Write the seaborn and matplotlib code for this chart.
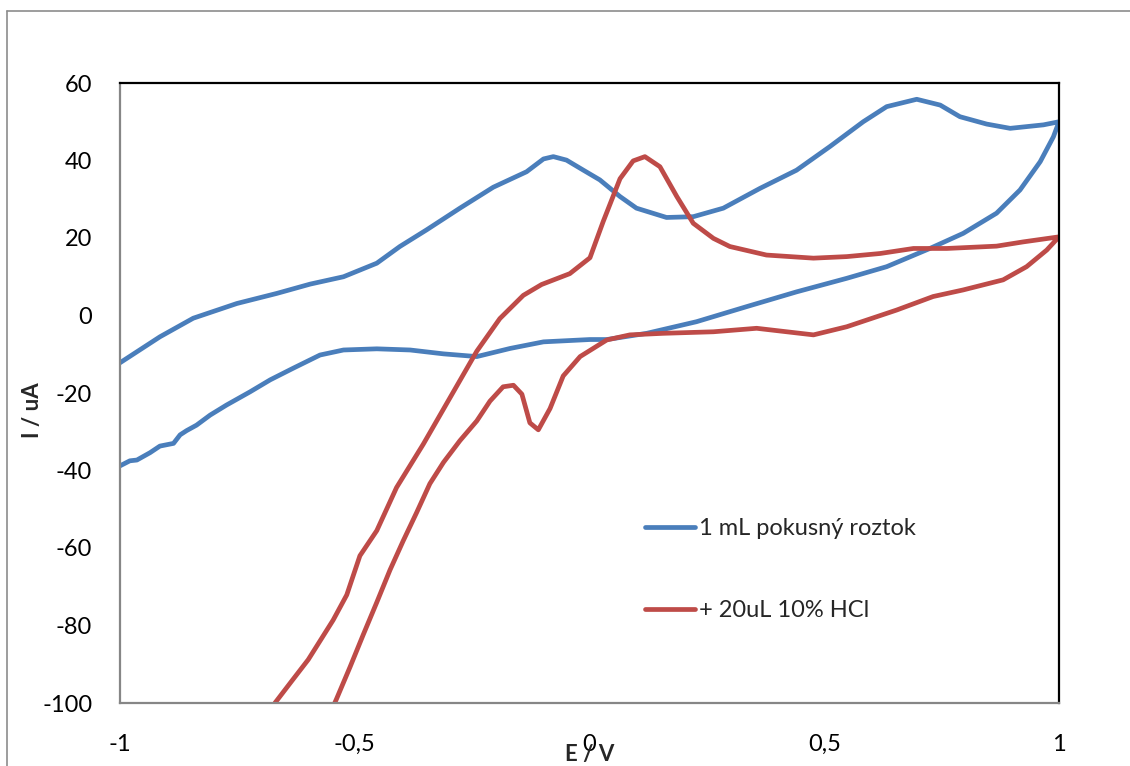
import matplotlib
matplotlib.use("Agg")
import matplotlib.pyplot as plt
from matplotlib.lines import Line2D
import numpy as np
import pandas as pd
import seaborn as sns

# Cyclic voltammograms: potential E (V) and current I (uA), in scan order
blue_e = [-1.000, -0.979, -0.964, -0.936, -0.915, -0.886, -0.872, -0.858, -0.837,
          -0.808, -0.773, -0.723, -0.680, -0.631, -0.574, -0.524, -0.453, -0.382,
          -0.311, -0.240, -0.169, -0.098, 0.001, 0.037, 0.122, 0.228, 0.335, 0.441,
          0.548, 0.633, 0.725, 0.796, 0.867, 0.917, 0.960, 0.988, 1.000,
          0.967, 0.896, 0.846, 0.789, 0.747, 0.697, 0.633, 0.583, 0.512, 0.441,
          0.363, 0.285, 0.221, 0.164, 0.100, 0.065, 0.022, -0.013, -0.049, -0.077,
          -0.098, -0.134, -0.205, -0.276, -0.347, -0.404, -0.453, -0.524, -0.595,
          -0.666, -0.751, -0.844, -0.915, -1.000]
blue_i = [-38.8, -37.5, -37.3, -35.4, -33.7, -33.0, -30.8, -29.7, -28.3,
          -25.7, -23.1, -19.7, -16.6, -13.6, -10.2, -8.9, -8.6, -8.9,
          -9.9, -10.6, -8.5, -6.8, -6.2, -6.2, -4.6, -1.6, 2.3, 6.1,
          9.6, 12.6, 17.3, 21.2, 26.4, 32.4, 39.7, 46.1, 50.0,
          49.2, 48.3, 49.4, 51.3, 54.3, 55.8, 53.9, 50.0, 43.6, 37.5,
          32.8, 27.7, 25.5, 25.3, 27.7, 30.7, 35.0, 37.5, 40.1, 41.0,
          40.4, 37.1, 33.1, 27.7, 22.1, 17.8, 13.5, 10.0, 8.1,
          5.7, 3.1, -0.7, -5.5, -12.2]

red_e = [-0.675, -0.670, -0.634, -0.599, -0.546, -0.517, -0.489, -0.453, -0.411,
         -0.354, -0.297, -0.240, -0.191, -0.141, -0.102, -0.042, 0.001, 0.029,
         0.065, 0.093, 0.118, 0.150, 0.186, 0.221, 0.264, 0.299, 0.377, 0.477,
         0.548, 0.619, 0.690, 0.761, 0.867, 0.924, 1.000,
         0.974, 0.931, 0.881, 0.796, 0.732, 0.654, 0.548, 0.477, 0.420, 0.356,
         0.264, 0.157, 0.086, 0.037, -0.020, -0.056, -0.084, -0.109, -0.127,
         -0.144, -0.162, -0.184, -0.212, -0.240, -0.276, -0.311, -0.340, -0.368,
         -0.397, -0.425, -0.453, -0.482, -0.510, -0.539, -0.550]
red_i = [-102.0, -100.0, -94.3, -88.8, -78.6, -72.1, -62.0, -55.5, -44.4,
         -33.2, -21.2, -9.2, -0.8, 5.2, 8.0, 10.8, 14.9, 24.2,
         35.3, 39.9, 41.0, 38.4, 30.7, 23.8, 19.9, 17.8, 15.6, 14.8,
         15.2, 16.0, 17.3, 17.3, 17.9, 19.0, 20.3,
         16.9, 12.6, 9.2, 6.6, 4.9, 1.4, -2.9, -5.0, -4.2, -3.3,
         -4.2, -4.6, -5.0, -6.3, -10.6, -15.6, -24.0, -29.5, -27.7,
         -20.3, -18.0, -18.4, -22.1, -27.2, -32.3, -37.9, -43.4, -50.8,
         -58.2, -65.7, -74.0, -82.4, -90.7, -99.0, -102.0]

series_names = ["1 mL pokusný roztok", "+ 20uL 10% HCl"]
series_colors = ["#4A7EBB", "#BE4B48"]

x_ticks = [-1, -0.5, 0, 0.5, 1]
x_tick_labels = ["-1", "-0,5", "0", "0,5", "1"]
y_ticks = [-100, -80, -60, -40, -20, 0, 20, 40, 60]

df = pd.concat([
    pd.DataFrame({"E": blue_e, "I": blue_i, "serie": series_names[0],
                  "step": np.arange(len(blue_e))}),
    pd.DataFrame({"E": red_e, "I": red_i, "serie": series_names[1],
                  "step": np.arange(len(red_e))}),
], ignore_index=True)

sns.set_theme(style="white")
plt.rcParams["font.family"] = ["Lato", "DejaVu Sans"]
plt.rcParams["axes.unicode_minus"] = False

W, H = 1130, 766
fig = plt.figure(figsize=(W / 100, H / 100), dpi=100)
ax = fig.add_axes([120 / W, 1 - 703 / H, 939 / W, 620 / H])

sns.lineplot(data=df, x="E", y="I", hue="serie", units="serie",
             estimator=None, sort=False, palette=series_colors,
             linewidth=3.4, ax=ax, legend=False)
for line in ax.get_lines():
    line.set_solid_joinstyle("round")
    line.set_solid_capstyle("round")

ax.set_xlim(-1, 1)
ax.set_ylim(-100, 60)
ax.set_xticks(x_ticks)
ax.set_xticklabels(x_tick_labels)
ax.set_yticks(y_ticks)
ax.tick_params(axis="both", length=0, labelsize=17, colors="black")
ax.tick_params(axis="x", pad=22)
ax.tick_params(axis="y", pad=20)

for side in ["left", "bottom"]:
    ax.spines[side].set_color("#868686")
    ax.spines[side].set_linewidth(1.6)
for side in ["top", "right"]:
    ax.spines[side].set_color("black")
    ax.spines[side].set_linewidth(1.6)

ax.set_xlabel("")
ax.set_ylabel("")
fig.text(590 / W, 1 - 755 / H, "E / V", ha="center", va="center",
         fontsize=16, fontweight="bold")
fig.text(32 / W, 1 - 410 / H, "I / uA", ha="center", va="center",
         fontsize=16, fontweight="bold", rotation=90)

handles = [Line2D([0], [0], color=c, lw=3.4, solid_capstyle="round")
           for c in series_colors]
ax.legend(handles, series_names, loc="upper left",
          bbox_to_anchor=(645 / W, 1 - 518 / H), bbox_transform=fig.transFigure,
          frameon=False, fontsize=17, handlelength=2.1, handletextpad=0.2,
          labelspacing=2.6, borderpad=0, borderaxespad=0)

# outer chart border
fig.add_artist(Line2D([7 / W, 7 / W], [0, 1 - 11 / H], transform=fig.transFigure,
                      color="#8C8C8C", lw=1.2))
fig.add_artist(Line2D([7 / W, 1], [1 - 11 / H, 1 - 11 / H], transform=fig.transFigure,
                      color="#8C8C8C", lw=1.2))

fig.savefig("out.png", dpi=100, facecolor="white")
